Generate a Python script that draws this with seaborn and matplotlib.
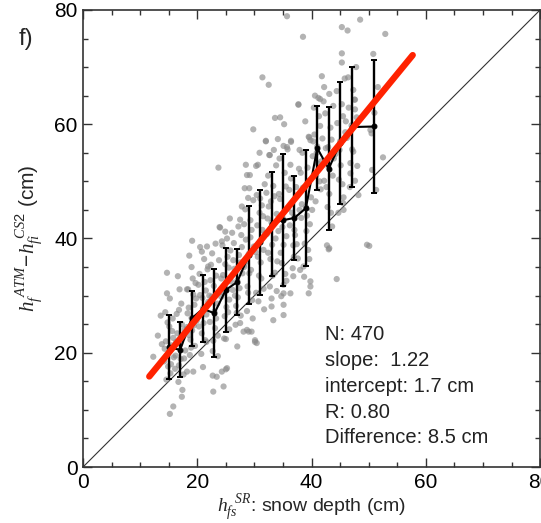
import numpy as np
import pandas as pd
import matplotlib
matplotlib.use("Agg")
import matplotlib.pyplot as plt
import seaborn as sns

# individual matched points (snow depth SR, ATM - CS2 freeboard), cm
obs_pairs = [
    # ~15
    (14.2, 18.5), (14.5, 22.0), (14.8, 25.3), (15.0, 20.1), (15.3, 16.4), (15.6, 23.8), (15.9, 19.2),
    (14.4, 27.1), (15.1, 24.6), (15.5, 21.3), (14.9, 17.6), (15.7, 26.0), (14.3, 20.7), (15.2, 29.5),
    (15.8, 22.6), (14.6, 15.3), (15.4, 18.0), (14.7, 30.4), (14.7, 34.0), (15.2, 9.3), (15.8, 10.6),
    (12.3, 19.3), (13.1, 23.0), (13.6, 26.5), (13.8, 21.5),
    # ~17
    (16.2, 19.5), (16.5, 23.4), (16.8, 17.8), (17.0, 21.6), (17.3, 25.0), (17.6, 16.2), (17.9, 20.4),
    (16.4, 26.8), (17.1, 18.9), (17.5, 22.7), (16.7, 14.9), (17.8, 24.1), (16.3, 21.9), (17.2, 28.6),
    (17.4, 13.5), (16.9, 31.1), (16.6, 33.4), (17.3, 12.3), (18.2, 16.7), (16.1, 17.2), (17.7, 19.0),
    (16.8, 27.5),
    # ~19
    (18.2, 24.5), (18.5, 27.9), (18.8, 22.3), (19.0, 26.1), (19.3, 30.2), (19.6, 21.2), (19.9, 25.6),
    (18.4, 31.1), (19.1, 23.9), (19.5, 28.4), (18.7, 19.6), (19.8, 29.5), (18.3, 26.9), (19.2, 33.0),
    (18.6, 37.0), (19.1, 39.6), (19.4, 24.8), (18.9, 20.9), (19.7, 32.2), (18.2, 31.1), (19.3, 16.7),
    (19.0, 35.0), (18.5, 23.1),
    # ~21
    (20.2, 26.3), (20.5, 30.1), (20.8, 23.4), (21.0, 27.8), (21.3, 32.4), (21.6, 21.9), (21.9, 28.9),
    (20.4, 33.8), (21.1, 25.2), (21.5, 30.9), (20.7, 19.8), (21.8, 34.6), (20.3, 24.6), (21.2, 36.4),
    (20.8, 37.7), (21.7, 38.6), (20.5, 38.5), (21.4, 22.2), (20.9, 29.6), (21.6, 26.7), (20.2, 31.9),
    (21.0, 17.5), (21.9, 35.1), (22.1, 30.0),
    # ~23
    (22.2, 25.4), (22.5, 29.8), (22.8, 22.1), (23.0, 27.2), (23.3, 33.5), (23.6, 19.4), (23.9, 30.6),
    (22.4, 35.4), (23.1, 24.3), (23.5, 28.6), (22.7, 20.3), (23.8, 36.2), (22.3, 32.7), (23.2, 39.1),
    (23.9, 42.0), (23.7, 52.4), (22.8, 13.2), (23.4, 15.8), (22.7, 16.0), (23.6, 23.0), (22.9, 31.7),
    (23.3, 26.0), (22.6, 37.4), (24.0, 41.9),
    # ~25
    (24.2, 29.8), (24.5, 33.6), (24.8, 26.4), (25.0, 31.2), (25.3, 36.8), (25.6, 24.1), (25.9, 32.5),
    (24.4, 38.8), (25.1, 28.0), (25.5, 34.9), (24.7, 22.5), (25.8, 37.9), (24.3, 39.5), (24.9, 41.2),
    (25.2, 40.0), (25.0, 17.1), (24.6, 14.1), (24.3, 16.7), (25.2, 17.3), (25.0, 22.4), (24.6, 30.5),
    (25.4, 27.1), (25.7, 43.5), (24.9, 35.5), (25.6, 29.3), (24.2, 33.0),
    # ~27
    (26.2, 31.0), (26.5, 34.7), (26.8, 28.2), (27.0, 32.6), (27.3, 37.1), (27.6, 26.5), (27.9, 33.9),
    (26.4, 39.2), (27.1, 29.7), (27.5, 35.8), (26.7, 24.9), (27.8, 38.5), (26.3, 36.2), (27.2, 42.1),
    (27.5, 43.3), (27.8, 45.6), (27.0, 21.1), (27.5, 25.2), (26.6, 30.0), (27.4, 31.3), (26.9, 27.0),
    (27.7, 40.6), (26.1, 41.0), (28.2, 35.0),
    # ~29
    (28.2, 35.4), (28.5, 39.8), (28.8, 31.6), (29.0, 37.3), (29.3, 43.2), (29.6, 29.2), (29.9, 38.6),
    (28.4, 45.1), (29.1, 33.9), (29.5, 41.5), (28.7, 27.3), (29.8, 46.7), (28.3, 48.8), (28.9, 47.1),
    (28.5, 52.9), (28.7, 51.1), (29.2, 51.1), (29.1, 48.8), (29.8, 59.1), (28.1, 23.7), (29.0, 23.7),
    (28.7, 24.0), (29.5, 23.7), (28.6, 36.0), (29.4, 34.5), (28.2, 42.5), (29.7, 26.0), (28.9, 30.5),
    (29.3, 40.2),
    # ~31
    (30.2, 37.6), (30.5, 42.3), (30.8, 33.5), (31.0, 39.5), (31.3, 45.8), (31.6, 31.2), (31.9, 40.9),
    (30.4, 47.6), (31.1, 35.8), (31.5, 43.9), (30.7, 29.0), (31.8, 49.5), (30.3, 52.7), (30.9, 55.0),
    (30.6, 52.9), (31.4, 68.2), (32.0, 57.0), (30.1, 22.2), (30.4, 21.7), (30.1, 21.9), (31.7, 27.6),
    (30.6, 36.8), (31.2, 33.0), (30.9, 44.5), (31.6, 38.0), (30.3, 30.5), (31.4, 41.5), (31.0, 47.0),
    # ~33
    (32.2, 40.8), (32.5, 45.6), (32.8, 36.4), (33.0, 42.8), (33.3, 49.2), (33.6, 34.0), (33.9, 44.3),
    (32.4, 51.0), (33.1, 38.9), (33.5, 47.4), (32.7, 31.6), (33.8, 52.8), (32.5, 66.9), (32.6, 54.6),
    (32.7, 54.6), (33.6, 61.1), (32.0, 57.1), (33.0, 29.5), (33.0, 28.1), (33.3, 25.7), (32.4, 37.5),
    (33.2, 33.5), (32.9, 46.5), (33.7, 40.0), (32.3, 43.5), (33.4, 55.5), (32.1, 48.0), (33.9, 30.8),
    # ~35
    (34.2, 41.3), (34.5, 46.9), (34.8, 35.7), (35.0, 43.5), (35.3, 51.5), (35.6, 32.6), (35.9, 45.2),
    (34.4, 54.0), (35.1, 38.9), (35.5, 49.1), (34.7, 29.9), (35.8, 55.6), (34.5, 61.2), (34.1, 57.4),
    (35.1, 56.2), (35.7, 56.0), (35.7, 78.9), (35.1, 31.9), (35.1, 28.4), (35.1, 26.6), (35.1, 30.4),
    (34.6, 37.5), (35.4, 33.8), (34.9, 42.0), (35.6, 40.4), (34.3, 47.8), (35.2, 60.0), (34.0, 36.0),
    # ~37
    (36.2, 42.3), (36.5, 46.1), (36.8, 38.8), (37.0, 43.8), (37.3, 49.0), (37.6, 36.5), (37.9, 45.0),
    (36.4, 50.5), (37.1, 40.6), (37.5, 47.6), (36.7, 34.8), (37.8, 52.2), (36.4, 57.1), (36.3, 52.9),
    (36.8, 33.4), (36.3, 30.4), (37.7, 63.4), (37.7, 63.5), (36.4, 56.9), (37.0, 41.5), (36.6, 44.5),
    (37.4, 39.0), (36.1, 48.5), (37.9, 55.5), (36.9, 36.8),
    # ~39
    (38.2, 43.6), (38.5, 48.9), (38.8, 39.1), (39.0, 45.5), (39.3, 52.4), (39.6, 36.4), (39.9, 47.2),
    (38.4, 55.0), (39.1, 41.3), (39.5, 50.1), (38.7, 33.3), (39.8, 57.2), (38.5, 75.3), (39.5, 57.8),
    (39.6, 57.7), (38.0, 34.5), (38.6, 35.1), (39.8, 32.5), (39.8, 31.6), (39.5, 30.4), (38.3, 46.0),
    (39.2, 44.0), (38.9, 60.5), (39.4, 38.0), (38.1, 51.5), (39.7, 42.5),
    # ~41
    (40.2, 54.4), (40.5, 58.2), (40.8, 51.0), (41.0, 56.1), (41.3, 61.4), (41.6, 48.6), (41.9, 57.5),
    (40.4, 62.9), (41.1, 53.1), (41.5, 59.7), (40.7, 46.5), (41.8, 68.4), (40.6, 65.0), (41.2, 64.6),
    (42.1, 64.0), (41.5, 64.4), (40.9, 55.0), (41.4, 50.0), (40.3, 57.0), (41.7, 53.5), (40.1, 45.0),
    # ~43
    (42.2, 50.1), (42.5, 55.8), (42.8, 45.5), (43.0, 52.4), (43.3, 59.4), (43.6, 42.1), (43.9, 54.0),
    (42.4, 61.9), (43.1, 47.8), (43.5, 57.3), (42.7, 38.8), (43.8, 63.2), (43.1, 65.3), (42.2, 66.5),
    (43.0, 38.1), (44.4, 32.9), (43.1, 38.3), (42.6, 49.0), (43.4, 44.5), (42.9, 56.0), (43.7, 51.0),
    # ~45
    (44.2, 54.8), (44.5, 60.2), (44.8, 50.3), (45.0, 57.0), (45.3, 63.5), (45.6, 47.2), (45.9, 58.6),
    (44.4, 65.8), (45.1, 52.8), (45.5, 61.4), (44.7, 44.5), (45.8, 68.0), (45.3, 72.4), (45.3, 70.8),
    (45.3, 77.0), (46.3, 76.4), (45.6, 45.0), (45.5, 46.2), (44.9, 55.5), (45.4, 49.5),
    # ~47
    (46.2, 57.6), (46.5, 62.9), (46.8, 53.2), (47.0, 59.8), (47.3, 66.0), (47.6, 50.1), (47.9, 61.2),
    (46.4, 68.2), (47.1, 55.6), (47.5, 64.3), (46.7, 49.0), (47.8, 70.0), (46.8, 51.4), (48.0, 52.7),
    (47.3, 55.2), (47.6, 64.3), (47.6, 62.6), (48.2, 47.6), (48.5, 78.3), (46.0, 60.5),
    # ~51
    (50.3, 59.0), (50.5, 58.4), (50.8, 72.3), (50.1, 38.7), (51.0, 62.0), (51.3, 48.5), (52.5, 54.2),
    (52.9, 75.8), (51.6, 66.5), (50.6, 52.0), (49.7, 38.9),
]

# binned means and standard deviations
bin_x = [15, 17, 19, 21, 23, 25, 27, 29, 31, 33, 35, 37, 39, 41, 43, 45, 47, 51]
bin_mean = [21.0, 20.5, 26.0, 27.7, 26.9, 31.0, 32.4, 37.1, 39.3, 42.6, 43.2, 43.6, 45.3, 55.8,
            52.2, 56.7, 59.5, 59.6]
bin_sd = [5.6, 4.8, 4.8, 5.9, 7.7, 7.3, 5.8, 8.6, 9.2, 9.1, 11.5, 7.3, 10.2, 7.3, 10.8, 10.7,
          10.5, 11.6]

# linear fit
fit_slope = 1.22
fit_intercept = 1.7
fit_xrange = [11.6, 57.7]

stats_lines = ["N: 470", "slope:  1.22", "intercept: 1.7 cm", "R: 0.80", "Difference: 8.5 cm"]

pts = pd.DataFrame(obs_pairs, columns=["snow", "diff"])
bins = pd.DataFrame({"x": bin_x, "mean": bin_mean, "sd": bin_sd})
fit = pd.DataFrame({"x": fit_xrange})
fit["y"] = fit_slope * fit["x"] + fit_intercept

sns.set_style("ticks")
plt.rcParams["font.family"] = ["Liberation Sans", "DejaVu Sans"]
plt.rcParams["mathtext.fontset"] = "custom"
plt.rcParams["mathtext.it"] = "Liberation Serif:italic"
plt.rcParams["mathtext.rm"] = "Liberation Sans"

fig = plt.figure(figsize=(5.41, 5.23), dpi=100)
ax = fig.add_axes([0.1534, 0.107, 0.845, 0.874])

ax.plot([0, 80], [0, 80], color="#333333", lw=0.8, zorder=1)
sns.scatterplot(data=pts, x="snow", y="diff", color="#8a8a8a", alpha=0.65, s=20,
                edgecolor="none", ax=ax, zorder=2)
ax.errorbar(bins["x"], bins["mean"], yerr=bins["sd"], fmt="none", ecolor="black",
            elinewidth=1.7, capsize=2.5, capthick=1.4, zorder=3)
sns.lineplot(data=bins, x="x", y="mean", color="black", lw=1.5, marker="o", ms=3.5,
             markeredgecolor="black", ax=ax, zorder=4)
sns.lineplot(data=fit, x="x", y="y", color="#ff2200", lw=4.6, ax=ax, zorder=5)

ax.set_xlim(0, 80)
ax.set_ylim(0, 80)
ax.set_xticks(np.arange(0, 81, 20))
ax.set_yticks(np.arange(0, 81, 20))
ax.set_xticks(np.arange(0, 81, 5), minor=True)
ax.set_yticks(np.arange(0, 81, 5), minor=True)
ax.tick_params(which="both", direction="in", top=True, right=True, colors="#333333",
               labelcolor="black", width=1.0)
ax.tick_params(which="major", length=6.5, labelsize=15, pad=4)
ax.tick_params(which="minor", length=3.5)
for sp in ax.spines.values():
    sp.set_linewidth(1.2)
    sp.set_color("#333333")

ax.set_xlabel(r"$h_{fs}^{\ \ SR}$: snow depth (cm)", fontsize=14)
ax.xaxis.set_label_coords(0.5, -0.055)
ax.set_ylabel(r"$h_f^{\ ATM}\!-\!h_{fi}^{\ CS2}$ (cm)", fontsize=15)
ax.yaxis.set_label_coords(-0.085, 0.5)

ax.text(42.4, 24.8, "\n".join(stats_lines), fontsize=14.5, color="#222222",
        va="top", ha="left", linespacing=1.45)
fig.text(0.035, 0.925, "f)", fontsize=17, ha="left", va="center")

fig.savefig("out.png", dpi=100)
